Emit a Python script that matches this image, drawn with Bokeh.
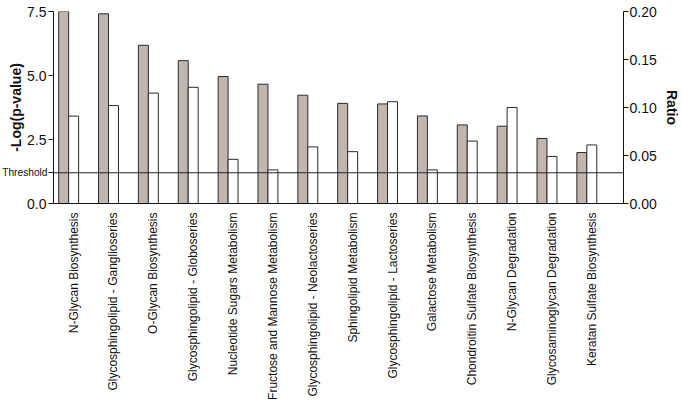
from bokeh.plotting import figure
from bokeh.models import Range1d, LinearAxis, FixedTicker, Span, Label, ColumnDataSource
from bokeh.embed import file_html
from bokeh.resources import INLINE
import math

pathways = [
    "N-Glycan Biosynthesis",
    "Glycosphingolipid - Ganglioseries",
    "O-Glycan Biosynthesis",
    "Glycosphingolipid - Globoseries",
    "Nucleotide Sugars Metabolism",
    "Fructose and Mannose Metabolism",
    "Glycosphingolipid - Neolactoseries",
    "Sphingolipid Metabolism",
    "Glycosphingolipid - Lactoseries",
    "Galactose Metabolism",
    "Chondroitin Sulfate Biosynthesis",
    "N-Glycan Degradation",
    "Glycosaminoglycan Degradation",
    "Keratan Sulfate Biosynthesis",
]
neg_log_p = [7.5, 7.41, 6.18, 5.58, 4.96, 4.66, 4.23, 3.91, 3.89, 3.42, 3.07, 3.02, 2.54, 1.99]
ratio = [0.091, 0.102, 0.115, 0.121, 0.046, 0.035, 0.059, 0.054, 0.106, 0.035, 0.065, 0.100, 0.049, 0.061]
threshold = 1.2
left_ticks = [0.0, 2.5, 5.0, 7.5]
left_labels = ["0.0", "2.5", "5.0", "7.5"]
right_ticks = [0.0, 0.05, 0.10, 0.15, 0.20]
right_labels = ["0.00", "0.05", "0.10", "0.15", "0.20"]

FONT = "Liberation Sans"
INK = "#111111"
idx = list(range(len(pathways)))

src = ColumnDataSource(dict(
    xg=[i - 0.125 for i in idx],
    xw=[i + 0.125 for i in idx],
    p=neg_log_p,
    r=ratio,
))

p = figure(width=682, height=402, output_backend="svg", toolbar_location=None,
           x_range=Range1d(-0.38, 13.92), y_range=Range1d(0, 7.5),
           min_border_left=53, min_border_right=58, min_border_top=0, min_border_bottom=190)
p.extra_y_ranges = {"ratio": Range1d(0, 0.20)}
p.outline_line_color = None
p.grid.visible = False
p.background_fill_color = "white"

p.vbar(x="xg", top="p", width=0.25, bottom=0, source=src,
       fill_color="#bfb7af", line_color="#2a2a2a", line_width=1)
p.vbar(x="xw", top="r", width=0.25, bottom=0, source=src, y_range_name="ratio",
       fill_color="white", line_color="#2a2a2a", line_width=1)

p.add_layout(Span(location=threshold, dimension="width", line_color="#222222", line_width=1))

# x axis
xa = p.xaxis[0]
xa.ticker = FixedTicker(ticks=[i + 0.125 for i in idx])
xa.major_label_overrides = {i + 0.125: name for i, name in zip(idx, pathways)}
xa.major_label_orientation = math.pi / 2
xa.major_tick_line_color = None
xa.minor_tick_line_color = None
xa.major_label_text_font = FONT
xa.major_label_text_font_size = "12px"
xa.major_label_text_color = INK
xa.major_label_standoff = 3
xa.axis_line_color = INK

# "Threshold" text: put in a side panel (above) so it is not clipped to the frame
p.add_layout(Label(x=-0.38, y=threshold, text="Threshold", text_align="right",
                   text_baseline="middle", x_offset=-6, text_font=FONT,
                   text_font_size="10.2px", text_color=INK), "above")

# left axis (extra tick at the threshold, without a label)
ya = p.yaxis[0]
ya.ticker = FixedTicker(ticks=left_ticks + [threshold])
overrides = {t: s for t, s in zip(left_ticks, left_labels)}
overrides[threshold] = " "
ya.major_label_overrides = overrides
ya.axis_label = "-Log(p-value)"
ya.axis_label_text_font = FONT
ya.axis_label_text_font_style = "bold"
ya.axis_label_text_font_size = "14px"
ya.axis_label_text_color = INK
ya.axis_label_standoff = 0
ya.major_label_text_font = FONT
ya.major_label_text_font_size = "14px"
ya.major_label_text_color = INK
ya.major_label_standoff = 2
ya.major_tick_in = 0
ya.major_tick_out = 5
ya.minor_tick_line_color = None
ya.axis_line_color = INK
ya.major_tick_line_color = INK

# right axis
ra = LinearAxis(y_range_name="ratio", ticker=FixedTicker(ticks=right_ticks))
ra.major_label_overrides = {t: s for t, s in zip(right_ticks, right_labels)}
ra.axis_label = "Ratio"
ra.axis_label_text_font = FONT
ra.axis_label_text_font_style = "bold"
ra.axis_label_text_font_size = "14px"
ra.axis_label_text_color = INK
ra.axis_label_standoff = 4
ra.major_label_text_font = FONT
ra.major_label_text_font_size = "14px"
ra.major_label_text_color = INK
ra.major_label_standoff = 1
ra.major_tick_in = 0
ra.major_tick_out = 5
ra.minor_tick_line_color = None
ra.axis_line_color = INK
ra.major_tick_line_color = INK
p.add_layout(ra, "right")

open("out.html", "w").write(file_html(p, INLINE))
